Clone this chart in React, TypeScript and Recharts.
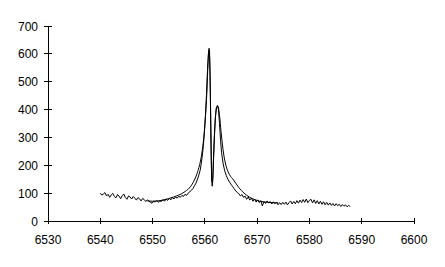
import { LineChart, Line, XAxis, YAxis } from 'recharts'

// observed H-alpha profile (wavelength, counts)
const OBS_WAVE = [
  6540.0, 6540.3, 6540.6, 6540.9, 6541.2, 6541.5, 6541.8, 6542.1, 6542.4, 6542.7,
  6543.0, 6543.3, 6543.6, 6543.9, 6544.2, 6544.5, 6544.8, 6545.1, 6545.4, 6545.7,
  6546.0, 6546.3, 6546.6, 6546.9, 6547.2, 6547.5, 6547.8, 6548.1, 6548.4, 6548.7,
  6549.0, 6549.3, 6549.6, 6549.9, 6550.2, 6550.5, 6550.8, 6551.1, 6551.4, 6551.7,
  6552.0, 6552.3, 6552.6, 6552.9, 6553.2, 6553.5, 6553.8, 6554.1, 6554.4, 6554.7,
  6555.0, 6555.3, 6555.6, 6555.9, 6556.2, 6556.5, 6556.8, 6557.1, 6557.4, 6557.7,
  6558.0, 6558.3, 6558.6, 6558.9,
  6559.1, 6559.3, 6559.5, 6559.7, 6559.9, 6560.1, 6560.3, 6560.5, 6560.7, 6560.8,
  6560.9, 6561.0, 6561.1, 6561.2, 6561.3, 6561.4, 6561.5, 6561.6, 6561.8, 6562.0,
  6562.2, 6562.4, 6562.6, 6562.8, 6563.0, 6563.2, 6563.5, 6563.8, 6564.1, 6564.4,
  6564.7, 6565.0, 6565.3, 6565.6, 6565.9, 6566.2,
  6566.5, 6566.8, 6567.1, 6567.4, 6567.7, 6568.0, 6568.3, 6568.6, 6568.9, 6569.2,
  6569.5, 6569.8, 6570.1, 6570.4, 6570.7, 6571.0, 6571.3, 6571.6, 6571.9, 6572.2,
  6572.5, 6572.8, 6573.1, 6573.4, 6573.7, 6574.0, 6574.3, 6574.6, 6574.9, 6575.2,
  6575.5, 6575.8, 6576.1, 6576.4, 6576.7, 6577.0, 6577.3, 6577.6, 6577.9, 6578.2,
  6578.5, 6578.8, 6579.1, 6579.4, 6579.7, 6580.0, 6580.3, 6580.6, 6580.9, 6581.2,
  6581.5, 6581.8, 6582.1, 6582.4, 6582.7, 6583.0, 6583.3, 6583.6, 6583.9, 6584.2,
  6584.5, 6584.8, 6585.1, 6585.4, 6585.7, 6586.0, 6586.3, 6586.6, 6586.9, 6587.2,
  6587.5, 6587.8,
]
const OBS_FLUX = [
  100, 93, 97, 102, 90, 96, 85, 94, 99, 88,
  83, 95, 89, 80, 91, 97, 84, 78, 90, 86,
  79, 88, 82, 75, 84, 80, 72, 81, 77, 70,
  76, 72, 66, 64, 71, 68, 74, 67, 72, 70,
  77, 71, 79, 74, 81, 76, 84, 79, 86, 82,
  89, 85, 92, 88, 96, 92, 100, 104, 110, 116,
  126, 136, 150, 168,
  182, 205, 232, 268, 315, 375, 450, 540, 605, 620,
  610, 520, 380, 240, 150, 125, 140, 200, 300, 370,
  405, 415, 400, 350, 290, 245, 205, 180, 163, 150,
  140, 132, 124, 116, 108, 102,
  98, 90, 95, 85, 89, 78, 86, 75, 82, 71,
  79, 68, 76, 66, 73, 54, 70, 63, 72, 65,
  70, 61, 69, 62, 68, 58, 66, 59, 67, 60,
  68, 58, 66, 72, 61, 70, 62, 73, 64, 75,
  66, 77, 67, 79, 66, 74, 78, 65, 76, 63,
  73, 61, 71, 60, 69, 58, 67, 57, 65, 56,
  63, 54, 62, 55, 60, 52, 59, 53, 58, 51,
  56, 52,
]

// model fit
const FIT_WAVE = [
  6549, 6550, 6551, 6552, 6553, 6554, 6555, 6556, 6557, 6557.5, 6558, 6558.5,
  6559, 6559.4, 6559.8, 6560.1, 6560.4, 6560.6, 6560.75, 6560.9, 6561.05,
  6561.2, 6561.35, 6561.5, 6561.7, 6561.95, 6562.25, 6562.5, 6562.8, 6563.1,
  6563.6, 6564.1, 6564.7, 6565.5, 6566.5, 6567.5, 6568.5, 6569.5, 6570.5,
  6572, 6574,
]
const FIT_FLUX = [
  72, 71, 72, 75, 80, 86, 93, 103, 118, 130, 147, 170,
  202, 240, 300, 370, 470, 565, 612, 590, 460,
  270, 140, 150, 240, 350, 408, 412, 380, 320,
  240, 195, 167, 147, 120, 100, 86, 77, 71,
  67, 65,
]

const X_TICKS = [6530, 6540, 6550, 6560, 6570, 6580, 6590, 6600]
const Y_TICKS = [0, 100, 200, 300, 400, 500, 600, 700]

const obsData = OBS_WAVE.map((w, i) => ({ w, v: OBS_FLUX[i] }))
const fitData = FIT_WAVE.map((w, i) => ({ w, v: FIT_FLUX[i] }))

const FONT = '"Liberation Sans", Arial, sans-serif'

const XTick = ({ x, y, payload }: any) => (
  <g>
    <line x1={x} x2={x} y1={y - 3} y2={y + 3} stroke="#000" shapeRendering="crispEdges" />
    <text x={x} y={y + 23} textAnchor="middle" fontSize={12} fontFamily={FONT} fill="#000">
      {payload.value}
    </text>
  </g>
)

const YTick = ({ x, y, payload }: any) => (
  <g>
    <line x1={x - 4} x2={x + 4} y1={y} y2={y} stroke="#000" shapeRendering="crispEdges" />
    <text x={x - 10} y={y + 4.5} textAnchor="end" fontSize={12} fontFamily={FONT} fill="#000">
      {payload.value}
    </text>
  </g>
)

export default function App() {
  return (
    <div style={{ position: 'absolute', left: 0, top: 0, background: '#fff' }}>
      <LineChart width={445} height={267} margin={{ top: 26, right: 31, bottom: 16, left: 0 }}>
        <XAxis
          dataKey="w"
          type="number"
          domain={[6530, 6600]}
          ticks={X_TICKS}
          allowDuplicatedCategory={false}
          tickSize={0}
          tickMargin={0}
          tickLine={false}
          tick={<XTick />}
          height={30}
          axisLine={{ stroke: '#000', shapeRendering: 'crispEdges' }}
        />
        <YAxis
          type="number"
          domain={[0, 700]}
          ticks={Y_TICKS}
          width={48}
          tickSize={0}
          tickMargin={0}
          tickLine={false}
          tick={<YTick />}
          axisLine={{ stroke: '#000', shapeRendering: 'crispEdges' }}
        />
        <Line
          data={fitData}
          dataKey="v"
          type="monotone"
          stroke="#000"
          strokeWidth={1}
          dot={false}
          isAnimationActive={false}
        />
        <Line
          data={obsData}
          dataKey="v"
          type="linear"
          stroke="#000"
          strokeWidth={1}
          dot={false}
          isAnimationActive={false}
        />
      </LineChart>
    </div>
  )
}
